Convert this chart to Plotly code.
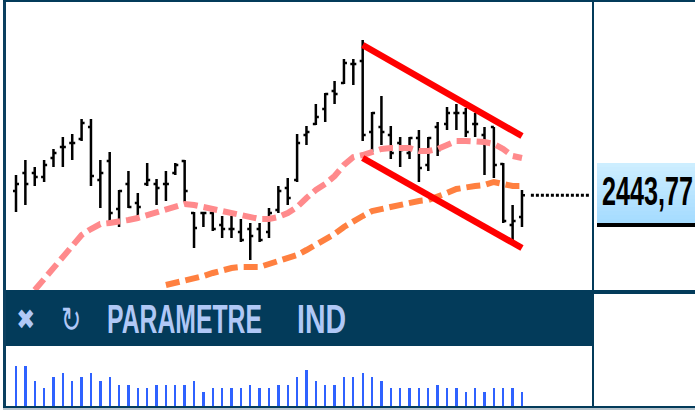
import plotly.graph_objects as go

W, H = 695, 410

bar_index = list(range(55))
highs = [2464,2479,2472,2479,2490,2502,2505,2520,2520,2479,2487,2449,2468,2446,2476,2460,2468,2476,2479,2427,2427,2427,2423,2423,2420,2416,2416,2431,2453,2461,2505,2513,2535,2546,2558,2580,2580,2599,2527,2543,2513,2502,2502,2509,2502,2517,2532,2535,2531,2526,2512,2512,2476,2434,2449]
lows = [2427,2434,2453,2457,2472,2472,2479,2498,2453,2431,2416,2412,2431,2423,2453,2434,2438,2464,2437,2391,2412,2408,2401,2401,2397,2379,2397,2401,2426,2434,2457,2494,2514,2517,2535,2555,2554,2498,2487,2494,2480,2472,2480,2457,2468,2483,2509,2509,2502,2502,2464,2461,2416,2397,2412]
opens = [2448,2466,2466,2462,2481,2492,2496,2500,2512,2459,2478,2430,2455,2436,2455,2455,2455,2466,2478,2426,2426,2426,2414,2410,2407,2410,2410,2407,2429,2451,2459,2504,2515,2530,2548,2556,2575,2578,2507,2512,2504,2496,2486,2501,2474,2512,2515,2526,2526,2515,2504,2512,2475,2414,2422]
closes = [2455,2455,2462,2474,2486,2492,2496,2516,2463,2466,2426,2448,2432,2432,2459,2451,2455,2474,2448,2411,2426,2410,2410,2410,2399,2403,2399,2426,2448,2441,2496,2507,2522,2545,2545,2576,2575,2504,2526,2507,2486,2489,2501,2471,2501,2489,2526,2526,2507,2515,2496,2474,2418,2418,2443.77]
volumes = [40,40,25,18,29,33,25,29,33,25,29,21,21,18,18,21,21,21,21,25,14,18,18,18,18,21,18,18,21,21,29,36,25,21,21,29,29,33,29,25,18,18,18,18,18,21,18,18,14,18,14,18,18,18,14]

ma_fast_index = list(range(2, 55))
ma_fast = [2349,2360,2371,2383,2394,2404,2410,2415,2416,2417,2419,2421,2424,2427,2430,2432,2435,2434,2432,2431,2429,2427,2424,2422,2420,2420,2422,2426,2432,2441,2449,2455,2463,2474,2482,2484,2487,2490,2491,2491,2491,2488,2488,2490,2494,2498,2498,2498,2497,2495,2490,2483,2481]
ma_slow_index = list(range(16, 55))
ma_slow = [2354,2356,2358,2360,2363,2366,2369,2371,2372,2372,2372,2375,2378,2381,2384,2389,2394,2399,2405,2412,2418,2423,2428,2430,2432,2435,2436,2438,2439,2442,2446,2450,2452,2453,2454,2457,2455,2453,2453]

channel_index = [37, 54]
channel_upper = [2594, 2503]
channel_lower = [2481, 2391]
last_line_index = [54.95, 61.3]
last_price = 2443.77
last_label = "2443,77"
toolbar_labels = ["✖", "↻", "PARAMETRE", "IND"]

NAVY = "#033b5a"


def px(x):
    return x / W


def py(y):
    return 1 - y / H


def rect(x0, y0, x1, y1, color):
    return dict(type="rect", xref="paper", yref="paper", x0=px(x0), x1=px(x1),
                y0=py(y1), y1=py(y0), fillcolor=color, line=dict(width=0), layer="above")


fig = go.Figure()
fig.add_trace(go.Ohlc(x=bar_index, open=opens, high=highs, low=lows, close=closes,
                      tickwidth=0.32,
                      increasing=dict(line=dict(color="#000000", width=2.5)),
                      decreasing=dict(line=dict(color="#000000", width=2.5)),
                      hoverinfo="skip", xaxis="x", yaxis="y"))
fig.add_trace(go.Scatter(x=ma_fast_index, y=ma_fast, mode="lines",
                         line=dict(color="#ff8a8c", width=6, dash="14px,6px"), xaxis="x", yaxis="y"))
fig.add_trace(go.Scatter(x=ma_slow_index, y=ma_slow, mode="lines",
                         line=dict(color="#ff8040", width=6, dash="14px,6px"), xaxis="x", yaxis="y"))
fig.add_trace(go.Scatter(x=channel_index, y=channel_upper, mode="lines",
                         line=dict(color="#ff0000", width=6.5), xaxis="x", yaxis="y"))
fig.add_trace(go.Scatter(x=channel_index, y=channel_lower, mode="lines",
                         line=dict(color="#ff0000", width=6.5), xaxis="x", yaxis="y"))
fig.add_trace(go.Scatter(x=last_line_index, y=[last_price, last_price], mode="lines",
                         line=dict(color="#000000", width=3, dash="3px,2px"), xaxis="x", yaxis="y"))
fig.add_trace(go.Bar(x=bar_index, y=volumes, width=0.25, marker=dict(color="#2f62ff", line=dict(width=0)),
                     xaxis="x2", yaxis="y2"))

xrange = [(5 - 16) / 9.37, (593 - 16) / 9.37]
axis_off = dict(visible=False, showgrid=False, zeroline=False, fixedrange=True)

shapes = []
strips = 15
for k in range(strips):
    t = k / (strips - 1)
    r = int(205 + (166 - 205) * t)
    g = int(238 + (220 - 238) * t)
    shapes.append(rect(597, 163 + 4 * k, 695, 167 + 4 * k, f"rgb({r},{g},255)"))
shapes += [
    rect(597, 223, 695, 227, "#000000"),
    rect(5, 290, 593, 346, NAVY),
    rect(592, 290, 695, 294, NAVY),
    rect(592, 0, 594, 410, NAVY),
    rect(3, 0, 6, 408, "#0b3f5f"),
    rect(3, 0, 695, 2, NAVY),
    rect(3, 406, 695, 408, NAVY),
    rect(3, 408, 695, 410, "#b8c4cc"),
]

TEXT = "#b0c8f6"
annotations = [
    dict(text=toolbar_labels[0], x=px(25.5), y=py(319), font=dict(size=28, color=TEXT, family="DejaVu Sans")),
    dict(text=toolbar_labels[1], x=px(71), y=py(319), font=dict(size=36, color=TEXT, family="DejaVu Sans")),
    dict(text="<b>" + toolbar_labels[2] + "</b>", x=px(184.5), y=py(319), width=157, font=dict(size=41, color=TEXT, family="Liberation Sans")),
    dict(text="<b>" + toolbar_labels[3] + "</b>", x=px(321.5), y=py(319), width=51, font=dict(size=41, color=TEXT, family="Liberation Sans")),
    dict(text="<b>" + last_label + "</b>", x=px(647.5), y=py(191), width=93, font=dict(size=41, color="#000000", family="Liberation Sans")),
]
for a in annotations:
    a.update(xref="paper", yref="paper", xanchor="center", yanchor="middle", showarrow=False)

fig.update_layout(
    width=W, height=H, autosize=False, showlegend=False, bargap=0,
    margin=dict(l=0, r=0, t=0, b=0), paper_bgcolor="white", plot_bgcolor="white",
    xaxis=dict(domain=[px(5), px(593)], range=xrange, rangeslider=dict(visible=False), **axis_off),
    yaxis=dict(domain=[py(290), py(5)], range=[2349, 2634], **axis_off),
    xaxis2=dict(domain=[px(5), px(593)], range=xrange, anchor="y2", **axis_off),
    yaxis2=dict(domain=[py(406), py(346)], range=[0, 60], anchor="x2", **axis_off),
    shapes=shapes, annotations=annotations,
)

# Remove the page's default margin and squeeze the condensed labels to the
# widths they occupy in the reference.
post = """
document.documentElement.style.margin = '0';
document.documentElement.style.overflow = 'hidden';
document.body.style.margin = '0';
setTimeout(function(){
  var widths = {'PARAMETRE':155, 'IND':49, '2443,77':91, '\u2716':19, '\u21bb':20};
  document.querySelectorAll('.annotation-text').forEach(function(t){
    var w = widths[t.textContent];
    if (w) {
      t.setAttribute('textLength', w); t.setAttribute('lengthAdjust', 'spacingAndGlyphs');
      t.querySelectorAll('tspan').forEach(function(s){
        s.setAttribute('textLength', w); s.setAttribute('lengthAdjust', 'spacingAndGlyphs');
      });
    }
  });
}, 30);
"""
fig.write_html("out.html", post_script=post, config=dict(displayModeBar=False))
